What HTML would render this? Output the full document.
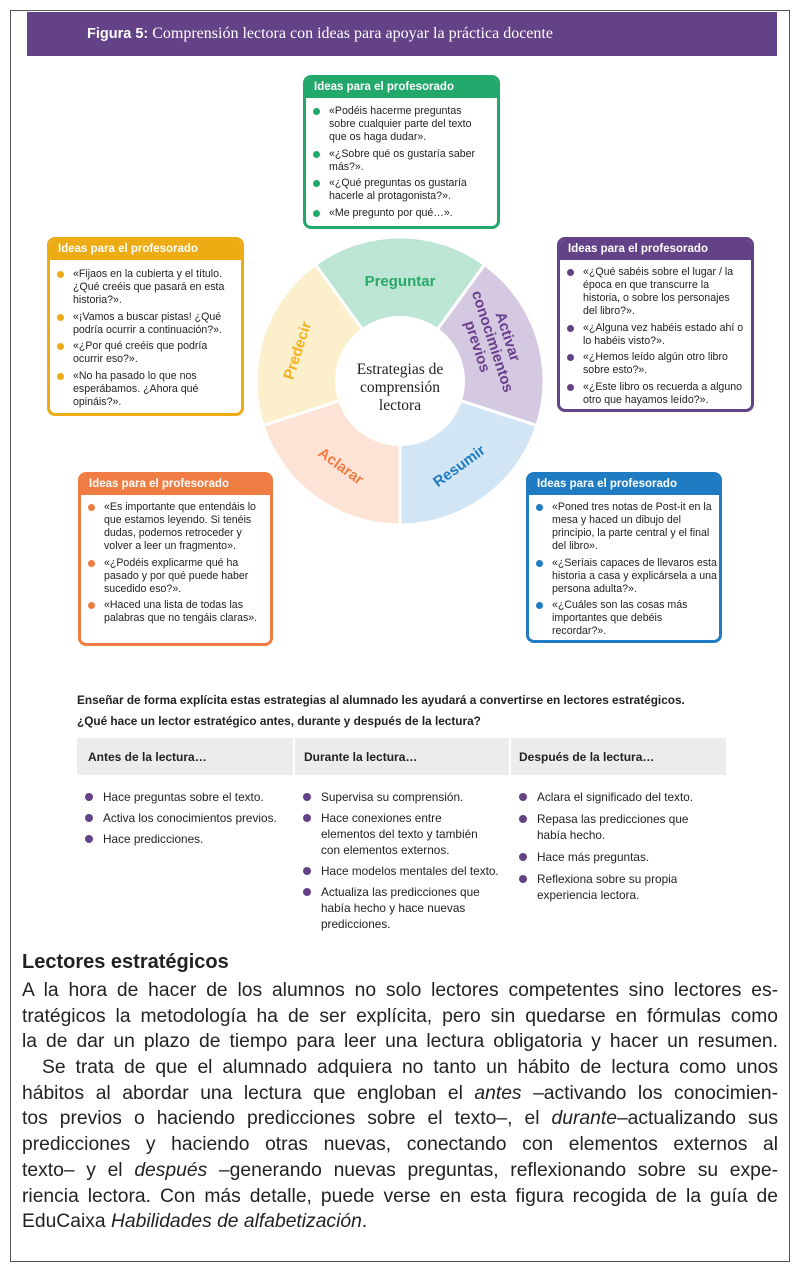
<!DOCTYPE html>
<html><head><meta charset="utf-8"><style>
*{margin:0;padding:0;box-sizing:border-box}
body{width:800px;height:1274px;background:#fff;position:relative;font-family:"Liberation Sans",sans-serif;color:#222;overflow:hidden}
.frame{position:absolute;left:10px;top:10px;width:780px;height:1252px;border:1px solid #555}
.hdr{position:absolute;left:27px;top:12px;width:750px;height:44px;background:#634287;color:#fff;font-family:"Liberation Serif",serif;font-size:16px;line-height:44px;padding-left:60px}
.hdr b{font-family:"Liberation Sans",sans-serif;font-size:14.5px}
.box{position:absolute;border:3px solid;border-radius:8px;background:#fff;overflow:hidden}
.box h4{color:#fff;font-size:11.5px;font-weight:bold;height:20px;line-height:18px;padding-left:8px}
.box ul{list-style:none;padding:6px 5px 0 23px}
.box li{position:relative;font-size:10.6px;line-height:13px;margin-bottom:3.5px;color:#222}
.box li:before{content:"";position:absolute;left:-16px;top:3px;width:7px;height:7px;border-radius:50%;background:var(--c)}
.tbl{position:absolute;font-size:11.8px}
.col{position:absolute;top:0}
.col li{list-style:none;position:relative;padding-left:21px;line-height:16px;margin-bottom:5px;width:200px}
.col li:before{content:"";position:absolute;left:3px;top:4px;width:8px;height:8px;border-radius:50%;background:#634287}
.para{position:absolute;left:22px;width:756px;font-size:19.3px;line-height:25.7px;color:#222}
.para div{text-align:justify;text-align-last:justify;white-space:nowrap;height:25.7px}
</style></head><body>
<div class="frame"></div>
<div class="hdr"><b>Figura 5:</b> Comprensión lectora con ideas para apoyar la práctica docente</div>

<svg style="position:absolute;left:0;top:0" width="800" height="560">
<g stroke="#fff" stroke-width="3" stroke-linejoin="round">
<path d="M400,381 L315.3,264.5 A144,144 0 0 1 484.7,264.5 Z" fill="#bde5d3"/>
<path d="M400,381 L484.7,264.5 A144,144 0 0 1 537,425.5 Z" fill="#d5c9e1"/>
<path d="M400,381 L537,425.5 A144,144 0 0 1 400,525 Z" fill="#d2e5f4"/>
<path d="M400,381 L400,525 A144,144 0 0 1 263,425.5 Z" fill="#fce3d6"/>
<path d="M400,381 L263,425.5 A144,144 0 0 1 315.3,264.5 Z" fill="#fcefcb"/>
</g>
<circle cx="400" cy="381" r="65" fill="#fff"/>
<g font-family="Liberation Sans" font-weight="bold" font-size="15" text-anchor="middle">
<text x="400" y="286" fill="#2aa86a">Preguntar</text>
<g transform="translate(488,343) rotate(72)" fill="#6a3f8f"><text x="0" y="-16">Activar</text><text x="0" y="0">conocimientos</text><text x="0" y="16">previos</text></g>
<text transform="translate(462,470) rotate(-36)" fill="#1f7cc2">Resumir</text>
<text transform="translate(338,470) rotate(36)" fill="#ef7d43">Aclarar</text>
<text transform="translate(302,352) rotate(-72)" fill="#f0b020">Predecir</text>
</g>
<g font-family="Liberation Serif" font-size="15.5" text-anchor="middle" fill="#222">
<text x="400" y="374">Estrategias de</text><text x="400" y="392">comprensión</text><text x="400" y="410">lectora</text>
</g>
</svg>

<div class="box" style="left:303px;top:75px;width:197px;height:154px;border-color:#22a86a;--c:#22a86a"><h4 style="background:#22a86a">Ideas para el profesorado</h4><ul style="padding-right:14px;padding-top:7px">
<li>«Podéis hacerme preguntas sobre cualquier parte del texto que os haga dudar».</li><li>«¿Sobre qué os gustaría saber más?».</li><li>«¿Qué preguntas os gustaría hacerle al protagonista?».</li><li>«Me pregunto por qué…».</li></ul></div>

<div class="box" style="left:47px;top:237px;width:197px;height:179px;border-color:#edab14;--c:#edab14"><h4 style="background:#edab14">Ideas para el profesorado</h4><ul style="padding-right:10px;padding-top:8px">
<li>«Fijaos en la cubierta y el título. ¿Qué creéis que pasará en esta historia?».</li><li>«¡Vamos a buscar pistas! ¿Qué podría ocurrir a continuación?».</li><li>«¿Por qué creéis que podría ocurrir eso?».</li><li>«No ha pasado lo que nos esperábamos. ¿Ahora qué opináis?».</li></ul></div>

<div class="box" style="left:557px;top:237px;width:197px;height:175px;border-color:#634287;--c:#634287"><h4 style="background:#634287">Ideas para el profesorado</h4><ul>
<li>«¿Qué sabéis sobre el lugar / la época en que transcurre la historia, o sobre los personajes del libro?».</li><li>«¿Alguna vez habéis estado ahí o lo habéis visto?».</li><li>«¿Hemos leído algún otro libro sobre esto?».</li><li>«¿Este libro os recuerda a alguno otro que hayamos leído?».</li></ul></div>

<div class="box" style="left:78px;top:472px;width:195px;height:174px;border-color:#ef7d43;--c:#ef7d43"><h4 style="background:#ef7d43">Ideas para el profesorado</h4><ul>
<li>«Es importante que entendáis lo que estamos leyendo. Si tenéis dudas, podemos retroceder y volver a leer un fragmento».</li><li>«¿Podéis explicarme qué ha pasado y por qué puede haber sucedido eso?».</li><li>«Haced una lista de todas las palabras que no tengáis claras».</li></ul></div>

<div class="box" style="left:526px;top:472px;width:196px;height:171px;border-color:#1f7cc2;--c:#1f7cc2"><h4 style="background:#1f7cc2">Ideas para el profesorado</h4><ul style="padding-right:2px">
<li>«Poned tres notas de Post-it en la mesa y haced un dibujo del principio, la parte central y el final del libro».</li><li>«¿Seríais capaces de llevaros esta historia a casa y explicársela a una persona adulta?».</li><li>«¿Cuáles son las cosas más importantes que debéis recordar?».</li></ul></div>

<div style="position:absolute;left:77px;top:690px;font-size:11.8px;font-weight:bold;line-height:21px;color:#222">Enseñar de forma explícita estas estrategias al alumnado les ayudará a convertirse en lectores estratégicos.<br>¿Qué hace un lector estratégico antes, durante y después de la lectura?</div>

<div style="position:absolute;left:77px;top:738px;width:649px;height:37px;background:#ececec"></div>
<div style="position:absolute;left:293px;top:738px;width:2px;height:37px;background:#fff"></div>
<div style="position:absolute;left:509px;top:738px;width:2px;height:37px;background:#fff"></div>
<div style="position:absolute;top:750px;left:88px;font-size:12px;font-weight:bold">Antes de la lectura…</div>
<div style="position:absolute;top:750px;left:304px;font-size:12px;font-weight:bold">Durante la lectura…</div>
<div style="position:absolute;top:750px;left:519px;font-size:12px;font-weight:bold">Después de la lectura…</div>

<div class="tbl" style="left:82px;top:789px"><ul class="col" style="left:0"><li>Hace preguntas sobre el texto.</li><li style="width:215px">Activa los conocimientos previos.</li><li>Hace predicciones.</li></ul>
<ul class="col" style="left:218px"><li>Supervisa su comprensión.</li><li style="width:185px">Hace conexiones entre elementos del texto y también con elementos externos.</li><li style="width:215px">Hace modelos mentales del texto.</li><li style="width:190px">Actualiza las predicciones que había hecho y hace nuevas predicciones.</li></ul>
<ul class="col" style="left:434px"><li style="margin-bottom:6px">Aclara el significado del texto.</li><li style="width:180px;margin-bottom:6px">Repasa las predicciones que había hecho.</li><li style="margin-bottom:6px">Hace más preguntas.</li><li style="width:180px">Reflexiona sobre su propia experiencia lectora.</li></ul></div>

<div style="position:absolute;left:22px;top:951px;font-size:20px;font-weight:bold;color:#222">Lectores estratégicos</div>
<div class="para" style="top:978px">
<div>A la hora de hacer de los alumnos no solo lectores competentes sino lectores es-</div>
<div>tratégicos la metodología ha de ser explícita, pero sin quedarse en fórmulas como</div>
<div>la de  dar un plazo de tiempo para leer una lectura obligatoria y hacer un resumen.</div>
<div style="padding-left:20px">Se trata de que el alumnado adquiera no tanto un hábito de lectura como unos</div>
<div>hábitos al abordar una lectura que engloban el <i>antes</i> –activando los conocimien-</div>
<div>tos previos o haciendo predicciones sobre el texto–, el <i>durante</i>–actualizando sus</div>
<div>predicciones y haciendo otras nuevas, conectando con elementos externos al</div>
<div>texto– y el <i>después</i> –generando nuevas preguntas, reflexionando sobre su expe-</div>
<div>riencia lectora. Con más detalle, puede verse en esta figura recogida de la guía de</div>
<div style="text-align-last:left">EduCaixa <i>Habilidades de alfabetización</i>.</div>
</div>
</body></html>
